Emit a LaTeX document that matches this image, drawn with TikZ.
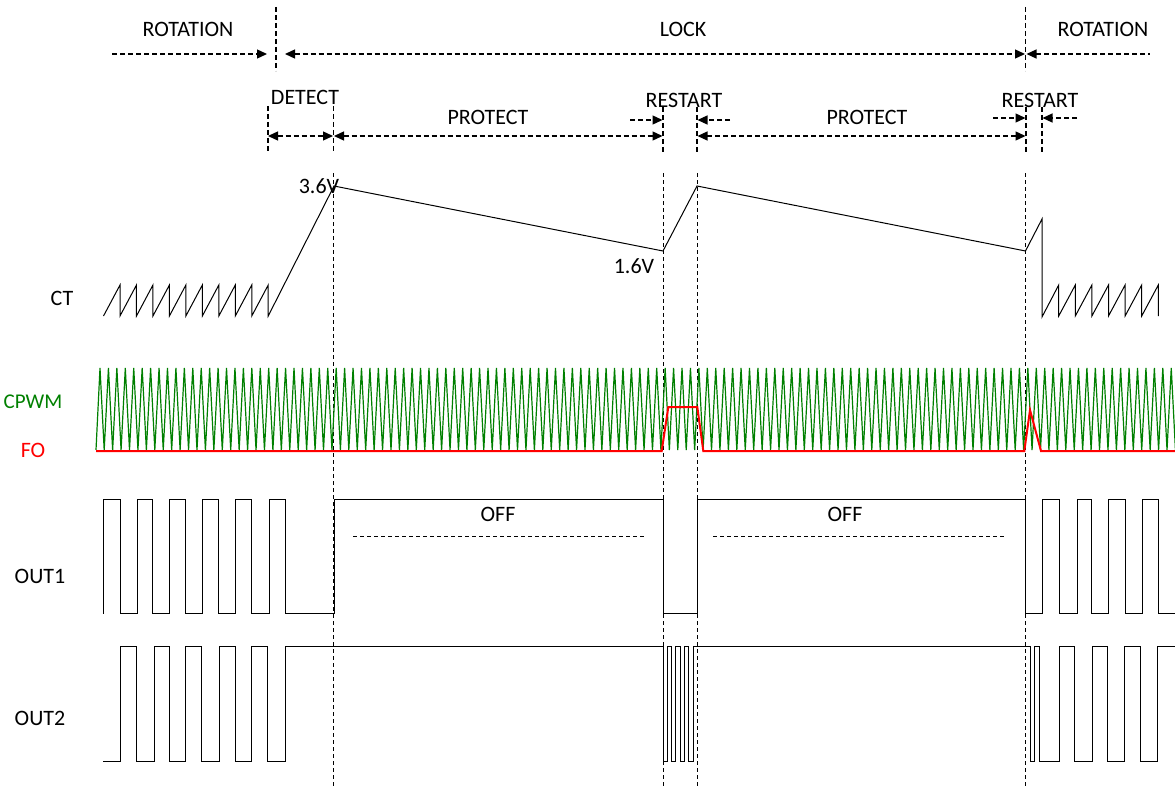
\documentclass[tikz,border=0pt]{standalone}
\usepackage{fontspec}
\setmainfont{Carlito}
\usetikzlibrary{arrows.meta}
\definecolor{pwmgreen}{RGB}{0,128,0}
\definecolor{fored}{RGB}{255,0,0}
\begin{document}
\begin{tikzpicture}[x=1pt,y=-1pt,
  lbl/.style={font=\fontsize{22}{26}\selectfont, inner sep=0pt},
  marker/.style={dash pattern=on 5pt off 3pt, line width=1.3pt},
  guide/.style={dash pattern=on 4pt off 3pt, line width=0.9pt},
  darrow/.style={dash pattern=on 5pt off 3pt, line width=1.3pt, {Triangle[length=10pt,width=9pt]}-{Triangle[length=10pt,width=9pt]}},
  rarrow/.style={dash pattern=on 5pt off 3pt, line width=1.3pt, -{Triangle[length=10pt,width=9pt]}},
  larrow/.style={dash pattern=on 5pt off 3pt, line width=1.3pt, {Triangle[length=10pt,width=9pt]}-},
  wave/.style={line width=1pt, line join=miter},
  pwm/.style={pwmgreen, line width=1.2pt, line join=miter},
  fo/.style={fored, line width=2pt, line join=miter}]
\useasboundingbox (0,0) rectangle (1175,789);

% ---------- top labels ----------
\node[lbl] (rot1) at (188,29) {ROTATION};
\node[lbl] (lock) at (683,29) {LOCK};
\node[lbl] (rot2) at (1103,29) {ROTATION};
\node[lbl] (detect) at (305,97) {DETECT};
\node[lbl] (prot1) at (488,117) {PROTECT};
\node[lbl] (rest1) at (684,100) {RESTART};
\node[lbl] (prot2) at (867,117) {PROTECT};
\node[lbl] (rest2) at (1040,100) {RESTART};

% ---------- top markers ----------
\draw[marker] (276,7) -- (276,71);
\draw[marker] (1025.5,7) -- (1025.5,71);
\draw[marker] (268,106) -- (268,153);
\draw[marker] (333.5,106) -- (333.5,153);
\draw[marker] (663,107) -- (663,153);
\draw[marker] (697,107) -- (697,153);
\draw[marker] (1026,107) -- (1026,153);
\draw[marker] (1042,107) -- (1042,153);

% ---------- arrows ----------
\coordinate (r1a) at (112,54);   \coordinate (r1b) at (267,54);
\coordinate (lka) at (285,54);   \coordinate (lkb) at (1025,54);
\coordinate (r2a) at (1026.5,54);\coordinate (r2b) at (1150,54);
\draw[rarrow] (r1a) -- (r1b);
\draw[darrow] (lka) -- (lkb);
\draw[larrow] (r2a) -- (r2b);

\coordinate (da) at (268,136);   \coordinate (db) at (333,136);
\coordinate (p1a) at (334,136);  \coordinate (p1b) at (662.5,136);
\coordinate (p2a) at (697.5,136);\coordinate (p2b) at (1025.5,136);
\draw[darrow] (da) -- (db);
\draw[darrow] (p1a) -- (p1b);
\draw[darrow] (p2a) -- (p2b);

\coordinate (s1a) at (630,120);  \coordinate (s1b) at (662.5,120);
\coordinate (s2a) at (730,120);  \coordinate (s2b) at (697.5,120);
\coordinate (s3a) at (993,118);  \coordinate (s3b) at (1025.5,118);
\coordinate (s4a) at (1077,118); \coordinate (s4b) at (1042.5,118);
\draw[rarrow] (s1a) -- (s1b);
\draw[rarrow] (s2a) -- (s2b);
\draw[rarrow] (s3a) -- (s3b);
\draw[rarrow] (s4a) -- (s4b);

% ---------- long guides ----------
\foreach \gx in {333.5,663,697,1025.5}
  \draw[guide] (\gx,173) -- (\gx,789);

% ---------- signal labels ----------
\node[lbl] (ct) at (62,298) {CT};
\node[lbl, text=pwmgreen, font=\fontsize{21}{25}\selectfont] (cpwm) at (33,402) {CPWM};
\node[lbl, text=fored] (folbl) at (33,450) {FO};
\node[lbl] (out1) at (40,576) {OUT1};
\node[lbl] (out2) at (40,718) {OUT2};
\node[lbl] (v36) at (319,186) {3.6V};
\node[lbl] (v16) at (634,266) {1.6V};
\node[lbl] (off1) at (498,514) {OFF};
\node[lbl] (off2) at (845,514) {OFF};
\draw[guide] (353,536.5) -- (645,536.5);
\draw[guide] (713,536.5) -- (1005,536.5);

% ---------- CT ----------
\draw[wave] (103.5,316)
  \foreach \i in {0,...,9} { -- ({120+16.47*\i},285) -- ({120+16.47*\i},316) }
  -- (334,186) -- (663,251) -- (697,186) -- (1025.5,251) -- (1042,219) -- (1042,317)
  \foreach \i in {0,...,6} { -- ({1058.7+16.6*\i},285) -- ({1058.7+16.6*\i},316) };

% ---------- CPWM ----------
\draw[pwm] (96,450)
  \foreach \k in {0,...,127} { -- ({100+8.435*\k},368) -- ({104.2+8.435*\k},450) };

% ---------- FO ----------
\draw[fo] (96,451) -- (661.7,451) -- (668.3,407) -- (697.3,407) -- (703.3,451)
  -- (1024.3,451) -- (1030,410) -- (1041,451) -- (1175,451);

% ---------- OUT1 ----------
\draw[wave] (103.3,613.5)
  \foreach \a/\b in {103.3/120, 137.7/152.7, 169.3/185, 202.7/218.7, 235/251.3, 269/285}
    { -- (\a,613.5) -- (\a,499) -- (\b,499) -- (\b,613.5) }
  -- (334,613.5) -- (334,499) -- (663,499) -- (663,613.5) -- (697,613.5) -- (697,499)
  -- (1025.7,499) -- (1025.7,613.5)
  \foreach \a/\b in {1042.3/1059, 1077.3/1091.7, 1108.3/1125, 1142.3/1158.3}
    { -- (\a,613.5) -- (\a,499) -- (\b,499) -- (\b,613.5) }
  -- (1175,613.5);

% ---------- OUT2 ----------
\draw[wave] (103,761.5)
  \foreach \a/\b in {120/136, 154/169.3, 185.7/201.7, 219.3/235, 251.7/267.3}
    { -- (\a,761.5) -- (\a,646.5) -- (\b,646.5) -- (\b,761.5) }
  -- (285,761.5) -- (285,646.5) -- (663.3,646.5) -- (663.3,761.5)
  \foreach \a/\b in {667.3/671.7, 675.7/680, 684.3/688.7}
    { -- (\a,761.5) -- (\a,646.5) -- (\b,646.5) -- (\b,761.5) }
  -- (693.3,761.5) -- (693.3,646.5) -- (1030,646.5) -- (1030,761.5)
  \foreach \a/\b in {1034.3/1039, 1059/1074.3, 1092.7/1107.7, 1124.3/1140}
    { -- (\a,761.5) -- (\a,646.5) -- (\b,646.5) -- (\b,761.5) }
  -- (1157.7,761.5) -- (1157.7,646.5) -- (1175,646.5);
\end{tikzpicture}
\end{document}
